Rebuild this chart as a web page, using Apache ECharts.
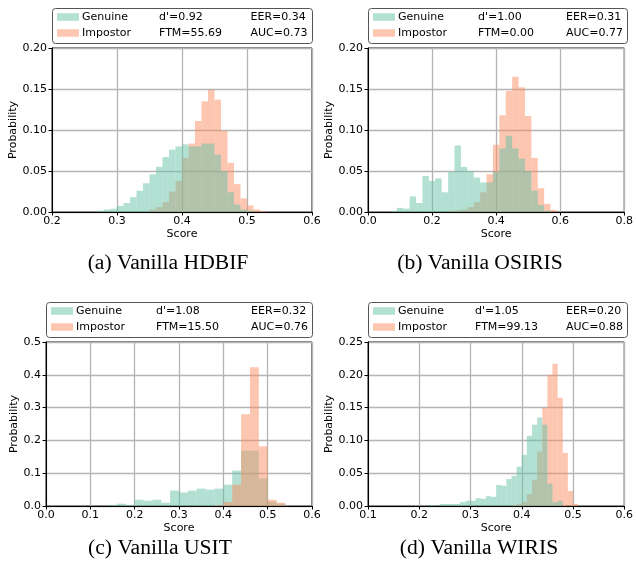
<!DOCTYPE html>
<html>
<head>
<meta charset="utf-8">
<script src="https://cdn.jsdelivr.net/npm/echarts@6/dist/echarts.min.js"></script>
<style>
  html, body { margin: 0; padding: 0; background: #fff; }
  #chart { width: 636px; height: 567px; }
</style>
</head>
<body>
<div id="chart"></div>
<script>
// panel order: (a) HDBIF, (b) OSIRIS, (c) USIT, (d) WIRIS
var captions = ['(a) Vanilla HDBIF', '(b) Vanilla OSIRIS', '(c) Vanilla USIT', '(d) Vanilla WIRIS'];
var dPrime = ['0.92', '1.00', '1.08', '1.05'];
var eer = ['0.34', '0.31', '0.32', '0.20'];
var ftm = ['55.69', '0.00', '15.50', '99.13'];
var auc = ['0.73', '0.77', '0.76', '0.88'];

// (a) HDBIF, bin width 0.01
var hdbifBinWidth = 0.01;
var hdbifBins = [0.27,0.28,0.29,0.30,0.31,0.32,0.33,0.34,0.35,0.36,0.37,0.38,0.39,0.40,0.41,0.42,0.43,0.44,0.45,0.46,0.47,0.48,0.49,0.50,0.51,0.52];
var hdbifGenuine = [0.0016,0.003,0.004,0.0075,0.011,0.018,0.026,0.035,0.046,0.055,0.067,0.076,0.080,0.0825,0.080,0.080,0.0835,0.0835,0.070,0.050,0.024,0.009,0.003,0.0015,0,0];
var hdbifImpostor = [0,0,0,0,0,0,0,0,0.003,0.006,0.012,0.025,0.038,0.066,0.0835,0.111,0.135,0.149,0.137,0.099,0.060,0.034,0.0165,0.008,0.003,0.001];

// (b) OSIRIS, bin width 0.02
var osirisBinWidth = 0.02;
var osirisBins = [0.07,0.09,0.11,0.13,0.15,0.17,0.19,0.21,0.23,0.25,0.27,0.29,0.31,0.33,0.35,0.37,0.39,0.41,0.43,0.45,0.47,0.49,0.51,0.53,0.55,0.57];
var osirisGenuine = [0.001,0.005,0.004,0.019,0.011,0.044,0.038,0.041,0.024,0.049,0.081,0.055,0.050,0.042,0.036,0.036,0.049,0.0775,0.093,0.0775,0.065,0.050,0.026,0.0086,0.0016,0];
var osirisImpostor = [0,0,0,0,0,0,0,0,0,0.001,0.002,0.003,0.006,0.012,0.024,0.046,0.082,0.118,0.1475,0.165,0.152,0.117,0.066,0.029,0.010,0.0025];

// (c) USIT, bin width 0.02
var usitBinWidth = 0.02;
var usitBins = [0.14,0.16,0.18,0.20,0.22,0.24,0.26,0.28,0.30,0.32,0.34,0.36,0.38,0.40,0.42,0.44,0.46,0.48,0.50,0.52];
var usitGenuine = [0.0035,0.007,0.0035,0.019,0.016,0.019,0.010,0.047,0.041,0.047,0.053,0.050,0.053,0.065,0.108,0.169,0.169,0.084,0.013,0.007];
var usitImpostor = [0,0,0,0,0,0,0,0,0,0,0,0,0.002,0.012,0.065,0.280,0.423,0.182,0.019,0.010];

// (d) WIRIS, bin width 0.01
var wirisBinWidth = 0.01;
var wirisBins = [0.22,0.23,0.24,0.25,0.26,0.27,0.28,0.29,0.30,0.31,0.32,0.33,0.34,0.35,0.36,0.37,0.38,0.39,0.40,0.41,0.42,0.43,0.44,0.45,0.46,0.47,0.48,0.49,0.50];
var wirisGenuine = [0.0015,0,0.003,0.003,0.003,0.003,0.006,0.008,0.008,0.012,0.011,0.015,0.014,0.032,0.031,0.041,0.046,0.060,0.078,0.107,0.124,0.135,0.124,0.034,0.006,0.008,0,0,0];
var wirisImpostor = [0,0,0,0,0,0,0,0,0,0,0,0,0,0,0,0,0.0015,0.003,0.006,0.018,0.040,0.083,0.150,0.200,0.217,0.165,0.081,0.023,0.003];

// axis ranges
var xMin = [0.2, 0.0, 0.0, 0.1], xMax = [0.6, 0.8, 0.6, 0.6], xStep = [0.1, 0.2, 0.1, 0.1];
var yMax = [0.2, 0.2, 0.5, 0.25], yStep = [0.05, 0.05, 0.1, 0.05];
var yDecimals = [2, 2, 1, 2];

var GEN = 'rgba(102,194,165,0.5)';
var IMP = 'rgba(252,141,98,0.5)';
var FONT = 'DejaVu Sans';

function toBars(bins, w, vals) {
  return bins.map(function (b, i) {
    return [b, Math.round((b + w) * 1000) / 1000, vals[i]];
  });
}

function barRenderer(color) {
  return function (params, api) {
    var v = api.value(2);
    if (!v) return;
    var p0 = api.coord([api.value(0), v]);
    var p1 = api.coord([api.value(1), 0]);
    return {
      type: 'rect',
      shape: { x: p0[0], y: p0[1], width: p1[0] - p0[0], height: p1[1] - p0[1] },
      style: { fill: color }
    };
  };
}

var panels = [
  { bins: hdbifBins, w: hdbifBinWidth, gen: hdbifGenuine, imp: hdbifImpostor, impOnTop: false },
  { bins: osirisBins, w: osirisBinWidth, gen: osirisGenuine, imp: osirisImpostor, impOnTop: false },
  { bins: usitBins, w: usitBinWidth, gen: usitGenuine, imp: usitImpostor, impOnTop: true },
  { bins: wirisBins, w: wirisBinWidth, gen: wirisGenuine, imp: wirisImpostor, impOnTop: false }
];

// layout
var grids = [
  { left: 52, top: 48, width: 260, height: 164 },
  { left: 368, top: 48, width: 259, height: 164 },
  { left: 46, top: 342, width: 266, height: 164 },
  { left: 368, top: 342, width: 259, height: 164 }
];
var boxes = [
  { x: 52, y: 8, w: 260, h: 35, mid: 159, right: 250.5 },
  { x: 368, y: 8, w: 259, h: 35, mid: 478, right: 566 },
  { x: 46, y: 302, w: 266, h: 35, mid: 156, right: 251 },
  { x: 368, y: 302, w: 259, h: 35, mid: 475, right: 566 }
];
var captionPos = [[168, 263], [480, 263], [160, 548], [479, 548]];

var option = {
  backgroundColor: '#fff',
  animation: false,
  grid: [], xAxis: [], yAxis: [], series: [], graphic: []
};

panels.forEach(function (p, i) {
  var g = grids[i];
  option.grid.push({
    left: g.left, top: g.top, width: g.width, height: g.height,
    show: true, borderColor: '#000', borderWidth: 1, backgroundColor: 'transparent'
  });
  option.xAxis.push({
    type: 'value', gridIndex: i, min: xMin[i], max: xMax[i], interval: xStep[i],
    name: 'Score', nameLocation: 'middle', nameGap: 17,
    nameTextStyle: { fontFamily: FONT, fontSize: 11, color: '#000' },
    axisLine: { show: true, onZero: false, lineStyle: { color: '#000', width: 1 } },
    axisTick: { show: true, length: 3.5, lineStyle: { color: '#000' } },
    axisLabel: {
      fontFamily: FONT, fontSize: 11, color: '#000', margin: 4,
      showMinLabel: true, showMaxLabel: true,
      formatter: function (v) { return v.toFixed(1); }
    },
    splitLine: { show: true, lineStyle: { color: '#b4b4b4', width: 1.3 } }
  });
  option.yAxis.push({
    type: 'value', gridIndex: i, min: 0, max: yMax[i], interval: yStep[i],
    name: 'Probability', nameLocation: 'middle', nameGap: i === 2 ? 26 : 32,
    nameTextStyle: { fontFamily: FONT, fontSize: 11, color: '#000' },
    axisLine: { show: true, lineStyle: { color: '#000', width: 1 } },
    axisTick: { show: true, length: 3.5, lineStyle: { color: '#000' } },
    axisLabel: {
      fontFamily: FONT, fontSize: 11, color: '#000', margin: 5,
      formatter: function (v) { return v.toFixed(yDecimals[i]); }
    },
    splitLine: { show: true, lineStyle: { color: '#b4b4b4', width: 1.3 } }
  });

  var genSeries = {
    type: 'custom', name: 'Genuine', xAxisIndex: i, yAxisIndex: i, silent: true,
    renderItem: barRenderer(GEN), encode: { x: [0, 1], y: 2 },
    data: toBars(p.bins, p.w, p.gen)
  };
  var impSeries = {
    type: 'custom', name: 'Impostor', xAxisIndex: i, yAxisIndex: i, silent: true,
    renderItem: barRenderer(IMP), encode: { x: [0, 1], y: 2 },
    data: toBars(p.bins, p.w, p.imp)
  };
  if (p.impOnTop) {
    option.series.push(genSeries, impSeries);
  } else {
    option.series.push(impSeries, genSeries);
  }

  // legend box with stats
  var b = boxes[i];
  var r1 = b.y + 9, r2 = b.y + 25;
  var txt = { fontFamily: FONT, fontSize: 11, fill: '#000', verticalAlign: 'middle' };
  function t(x, y, s) {
    return { type: 'text', x: x, y: y, z: 100, style: Object.assign({ text: s }, txt) };
  }
  option.graphic.push(
    { type: 'rect', z: 100, shape: { x: b.x + 0.5, y: b.y + 0.5, width: b.w, height: b.h, r: 3 },
      style: { fill: 'rgba(255,255,255,0.9)', stroke: '#555', lineWidth: 1 } },
    { type: 'rect', z: 100, shape: { x: b.x + 5, y: r1 - 3.75, width: 22, height: 7.5 }, style: { fill: GEN } },
    { type: 'rect', z: 100, shape: { x: b.x + 5, y: r2 - 3.75, width: 22, height: 7.5 }, style: { fill: IMP } },
    t(b.x + 30, r1, 'Genuine'),
    t(b.x + 30, r2, 'Impostor'),
    t(b.mid, r1, "d'=" + dPrime[i]),
    t(b.mid, r2, 'FTM=' + ftm[i]),
    t(b.right, r1, 'EER=' + eer[i]),
    t(b.right, r2, 'AUC=' + auc[i]),
    { type: 'text', x: captionPos[i][0], y: captionPos[i][1], z: 100,
      style: { text: captions[i], fontFamily: 'Liberation Serif', fontSize: 21.6, fill: '#000',
               align: 'center', verticalAlign: 'middle' } }
  );
});

var chart = echarts.init(document.getElementById('chart'), null, { renderer: 'canvas' });
chart.setOption(option);
</script>
</body>
</html>
